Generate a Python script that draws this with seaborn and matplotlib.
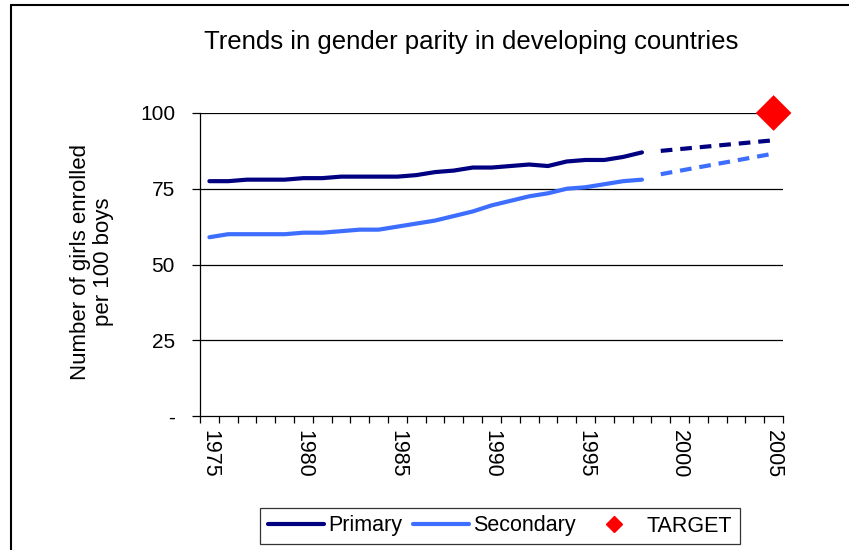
import pandas as pd
import seaborn as sns
import matplotlib.pyplot as plt
from matplotlib.lines import Line2D

# Data
years = list(range(1975, 2006))
hist_years = list(range(1975, 1999))
primary = [77.5, 77.5, 78, 78, 78, 78.5, 78.5, 79, 79, 79, 79, 79.5,
           80.5, 81, 82, 82, 82.5, 83, 82.5, 84, 84.5, 84.5, 85.5, 87]
secondary = [59, 60, 60, 60, 60, 60.5, 60.5, 61, 61.5, 61.5, 62.5, 63.5,
             64.5, 66, 67.5, 69.5, 71, 72.5, 73.5, 75, 75.5, 76.5, 77.5, 78]
proj_years = [1999, 2005]
primary_proj = [87.5, 91]
secondary_proj = [79.8, 86.6]
target_year = 2005
target_value = 100
yticks = [0, 25, 50, 75, 100]
ytick_labels = ["-", "25", "50", "75", "100"]

navy = "#000080"
blue = "#3D6EFF"

sns.set_style("white")
plt.rcParams['font.family'] = ['Liberation Sans', 'DejaVu Sans']
plt.rcParams['text.color'] = 'black'
plt.rcParams['xtick.color'] = 'black'
plt.rcParams['ytick.color'] = 'black'

fig = plt.figure(figsize=(8.49, 5.5), dpi=100)
ax = fig.add_axes([200 / 849, 1 - 416 / 550, 583 / 849, 303 / 550])

pos = {y: i for i, y in enumerate(years)}
hist = pd.DataFrame({'x': [pos[y] for y in hist_years], 'Primary': primary, 'Secondary': secondary})
proj = pd.DataFrame({'x': [pos[y] for y in proj_years], 'Primary': primary_proj, 'Secondary': secondary_proj})

for yv in yticks[1:]:
    ax.axhline(yv, color='black', lw=0.9, zorder=0)

dash = (0, (2.8, 1.9))
sns.lineplot(data=hist, x='x', y='Primary', color=navy, lw=3, ax=ax)
sns.lineplot(data=hist, x='x', y='Secondary', color=blue, lw=3, ax=ax)
sns.lineplot(data=proj, x='x', y='Primary', color=navy, lw=3, ax=ax, linestyle=dash)
sns.lineplot(data=proj, x='x', y='Secondary', color=blue, lw=3, ax=ax, linestyle=dash)
sns.scatterplot(x=[pos[target_year]], y=[target_value], marker='D', s=330,
                color='red', edgecolor='none', ax=ax, clip_on=False, zorder=5)

ax.set_xlim(-0.5, len(years) - 0.5)
ax.set_ylim(0, 100)
ax.set_yticks(yticks)
ax.set_yticklabels(ytick_labels, fontsize=15)
label_years = [y for y in years if y % 5 == 0]
ax.set_xticks([pos[y] for y in label_years])
ax.set_xticklabels([str(y) for y in label_years], rotation=270, fontsize=15.5)
ax.set_xticks([i - 0.5 for i in range(len(years) + 1)], minor=True)
ax.tick_params(axis='x', which='major', length=0, pad=10)
ax.tick_params(axis='x', which='minor', length=5, width=0.9, direction='out', bottom=True)
ax.tick_params(axis='y', length=6, width=0.9, direction='out', left=True, pad=12)
ax.set_xlabel('')
ax.set_ylabel('')

for s in ['top', 'right']:
    ax.spines[s].set_visible(False)
for s in ['left', 'bottom']:
    ax.spines[s].set_color('black')
    ax.spines[s].set_linewidth(0.9)

fig.text(92 / 849, 1 - 262 / 550, 'Number of girls enrolled\nper 100 boys',
         rotation=90, ha='center', va='center', fontsize=16, linespacing=1.15)
fig.text(471 / 849, 1 - 42 / 550, 'Trends in gender parity in developing countries',
         ha='center', va='center', fontsize=18.5)

handles = [Line2D([], [], color=navy, lw=3),
           Line2D([], [], color=blue, lw=3),
           Line2D([], [], color='red', marker='D', lw=0, markersize=8)]
leg = fig.legend(handles, ['Primary', 'Secondary', 'TARGET'], ncol=3, fontsize=15.5,
                 loc='center', bbox_to_anchor=(500 / 849, 1 - 526 / 550),
                 frameon=True, fancybox=False, edgecolor='black', handlelength=2.6,
                 handletextpad=0.2, columnspacing=0.5, borderpad=0.35)
leg.get_frame().set_linewidth(0.9)

# outer chart border
fig.add_artist(Line2D([11 / 849, 11 / 849], [0, 1 - 5 / 550], color='black', lw=1.5))
fig.add_artist(Line2D([11 / 849, 1], [1 - 5 / 550, 1 - 5 / 550], color='black', lw=1.5))

fig.savefig('out.png', dpi=100)
